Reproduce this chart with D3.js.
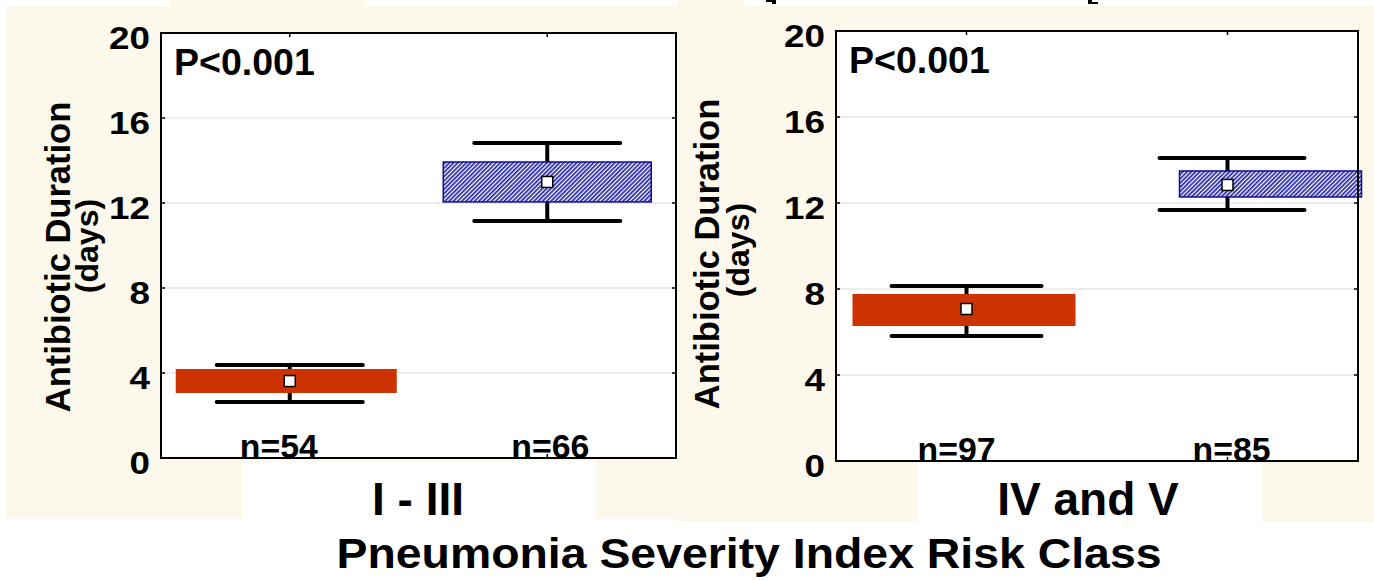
<!DOCTYPE html>
<html>
<head>
<meta charset="utf-8">
<script src="https://cdn.jsdelivr.net/npm/d3@7"></script>
<style>
html,body{margin:0;padding:0;background:#fff;}
svg{display:block;}
text{font-family:"Liberation Sans",Arial,Helvetica,sans-serif;font-weight:bold;fill:#000;}
</style>
</head>
<body>
<svg id="chart" width="1374" height="580"></svg>
<script>
// ---------- data ----------
const panels = ["I - III", "IV and V"];
const groups = ["Group A", "Group B"];
const nLabels = [["n=54", "n=66"], ["n=97", "n=85"]];
const means = [[3.62, 12.99], [7.07, 12.84]];
const boxLow = [[3.06, 12.05], [6.28, 12.28]];
const boxHigh = [[4.19, 13.93], [7.77, 13.49]];
const whiskerLow = [[2.64, 11.15], [5.81, 11.67]];
const whiskerHigh = [[4.38, 14.82], [8.14, 14.09]];
const yTicks = [0, 4, 8, 12, 16, 20];
const pLabels = ["P<0.001", "P<0.001"];
const yTitle = ["Antibiotic Duration", "(days)"];
const xTitle = "Pneumonia Severity Index Risk Class";

// ---------- layout / style ----------
const cream = "#FDF8EC";
const frames = [
  {x0: 161, x1: 676, y0: 33, y1: 458, t1: 70, t2: 98, tc: 257, tc2: 246, catX: 418},
  {x0: 836, x1: 1358, y0: 31, y1: 461, t1: 719, t2: 749, tc: 254, tc2: 250, catX: 1088}
];
const boxOffsets = [[[-114, 107], [-104, 104]], [[-114, 109], [-48, 134]]];
const whiskerOffsets = [[[-73, 73], [-73, 73]], [[-75, 75], [-68, 77]]];
const nOffsets = [[-11, 3], [-10, 4]];
const fills = ["#CC3300", "url(#hatch)"];
const strokes = ["none", "#10108a"];

const svg = d3.select("#chart");
const defs = svg.append("defs");
const pat = defs.append("pattern").attr("id", "hatch").attr("patternUnits", "userSpaceOnUse")
  .attr("width", 3).attr("height", 3).attr("patternTransform", "rotate(45)");
pat.append("rect").attr("width", 3).attr("height", 3).attr("fill", "#ffffff");
pat.append("rect").attr("width", 1.7).attr("height", 3).attr("fill", "#2424a8");

// backgrounds
const bg = svg.append("g");
bg.append("path").attr("fill", cream).attr("d",
  "M5,6 L170,6 L170,0 L365,0 L365,6 L678,6 L678,519 L596,519 L596,461 L243,461 L243,519 L5,519 Z");
bg.append("path").attr("fill", cream).attr("d",
  "M678,0 L745,0 L745,6 L1374,6 L1374,522 L1262,522 L1262,462 L918,462 L918,522 L678,522 Z");
// clipped glyph fragments at the very top edge
bg.append("path").attr("fill", "#000").attr("d", "M766,0 L776,0 L776,4 L772,4 L772,2 L766,2 Z");
bg.append("path").attr("fill", "#000").attr("d", "M1088,0 L1092,0 L1092,2 L1098,2 L1098,4 L1088,4 Z");

panels.forEach((pName, pi) => {
  const f = frames[pi];
  const g = svg.append("g");
  const y = d3.scaleLinear().domain([0, 20]).range([f.y1, f.y0]);
  const x = d3.scalePoint().domain(groups).range([f.x0, f.x1]).padding(0.5);

  g.append("rect").attr("x", f.x0).attr("y", f.y0).attr("width", f.x1 - f.x0).attr("height", f.y1 - f.y0)
    .attr("fill", "#fff");

  // gridlines
  g.selectAll(".grid").data(yTicks.filter(t => t > 0 && t < 20)).join("line")
    .attr("x1", f.x0).attr("x2", f.x1).attr("y1", d => y(d)).attr("y2", d => y(d))
    .attr("stroke", "#bdbdbd").attr("stroke-width", 1).attr("stroke-dasharray", "1,1");

  // y axis ticks + labels
  const yAxis = d3.axisLeft(y).tickValues(yTicks).tickSize(0).tickPadding(11);
  const ya = g.append("g").attr("transform", `translate(${f.x0},0)`).call(yAxis);
  ya.select(".domain").remove();
  ya.selectAll("text").attr("font-size", 31).attr("dy", null).attr("dominant-baseline", "central")
    .attr("transform", "translate(0,5)")
    .attr("textLength", d => String(d).length * 20.5).attr("lengthAdjust", "spacingAndGlyphs")
    .style("font-family", '"Liberation Sans",Arial,sans-serif').style("font-weight", "bold");
  // inner tick marks on all sides
  g.selectAll(".tl").data(yTicks).join("line").attr("x1", f.x0).attr("x2", f.x0 + 4)
    .attr("y1", d => y(d)).attr("y2", d => y(d)).attr("stroke", "#000").attr("stroke-width", 1.5);
  g.selectAll(".tr").data(yTicks).join("line").attr("x1", f.x1 - 4).attr("x2", f.x1)
    .attr("y1", d => y(d)).attr("y2", d => y(d)).attr("stroke", "#000").attr("stroke-width", 1.5);
  g.selectAll(".tt").data(groups).join("line").attr("x1", d => x(d)).attr("x2", d => x(d))
    .attr("y1", f.y0).attr("y2", f.y0 + 4).attr("stroke", "#000").attr("stroke-width", 1.5);
  g.selectAll(".tb").data(groups).join("line").attr("x1", d => x(d)).attr("x2", d => x(d))
    .attr("y1", f.y1 - 4).attr("y2", f.y1).attr("stroke", "#000").attr("stroke-width", 1.5);

  // boxes
  groups.forEach((gr, gi) => {
    const cx = x(gr);
    const wo = whiskerOffsets[pi][gi];
    const bo = boxOffsets[pi][gi];
    g.append("line").attr("x1", cx).attr("x2", cx).attr("y1", y(whiskerLow[pi][gi])).attr("y2", y(whiskerHigh[pi][gi]))
      .attr("stroke", "#000").attr("stroke-width", 4);
    [whiskerLow[pi][gi], whiskerHigh[pi][gi]].forEach(v => {
      g.append("line").attr("x1", cx + wo[0]).attr("x2", cx + wo[1]).attr("y1", y(v)).attr("y2", y(v))
        .attr("stroke", "#000").attr("stroke-width", 4).attr("stroke-linecap", "round");
    });
    g.append("rect").attr("x", cx + bo[0]).attr("width", bo[1] - bo[0])
      .attr("y", y(boxHigh[pi][gi])).attr("height", y(boxLow[pi][gi]) - y(boxHigh[pi][gi]))
      .attr("fill", fills[gi]).attr("stroke", strokes[gi]).attr("stroke-width", 1.5);
    g.append("rect").attr("x", cx - 5.5).attr("y", y(means[pi][gi]) - 5.5).attr("width", 11).attr("height", 11)
      .attr("fill", "#fff").attr("stroke", "#000").attr("stroke-width", 1.5);
    g.append("text").attr("x", cx + nOffsets[pi][gi]).attr("y", f.y1).attr("text-anchor", "middle")
      .attr("font-size", 34).attr("textLength", 78).attr("lengthAdjust", "spacingAndGlyphs")
      .text(nLabels[pi][gi]);
  });

  // frame
  g.append("rect").attr("x", f.x0).attr("y", f.y0).attr("width", f.x1 - f.x0).attr("height", f.y1 - f.y0)
    .attr("fill", "none").attr("stroke", "#000").attr("stroke-width", 2);

  // p-value
  g.append("text").attr("x", f.x0 + 13).attr("y", f.y0 + 42).attr("font-size", 37.5).text(pLabels[pi]);

  // y titles
  g.append("text").attr("transform", `translate(${f.t1},${f.tc}) rotate(-90)`).attr("text-anchor", "middle")
    .attr("font-size", 34.5).text(yTitle[0]);
  g.append("text").attr("transform", `translate(${f.t2},${f.tc2}) rotate(-90)`).attr("text-anchor", "middle")
    .attr("font-size", 32).text(yTitle[1]);

  // category label
  g.append("text").attr("x", f.catX).attr("y", 515).attr("text-anchor", "middle")
    .attr("font-size", 46).text(pName);
});

svg.append("text").attr("x", 749).attr("y", 568).attr("text-anchor", "middle")
  .attr("font-size", 43).attr("textLength", 825).attr("lengthAdjust", "spacingAndGlyphs").text(xTitle);
</script>
</body>
</html>
